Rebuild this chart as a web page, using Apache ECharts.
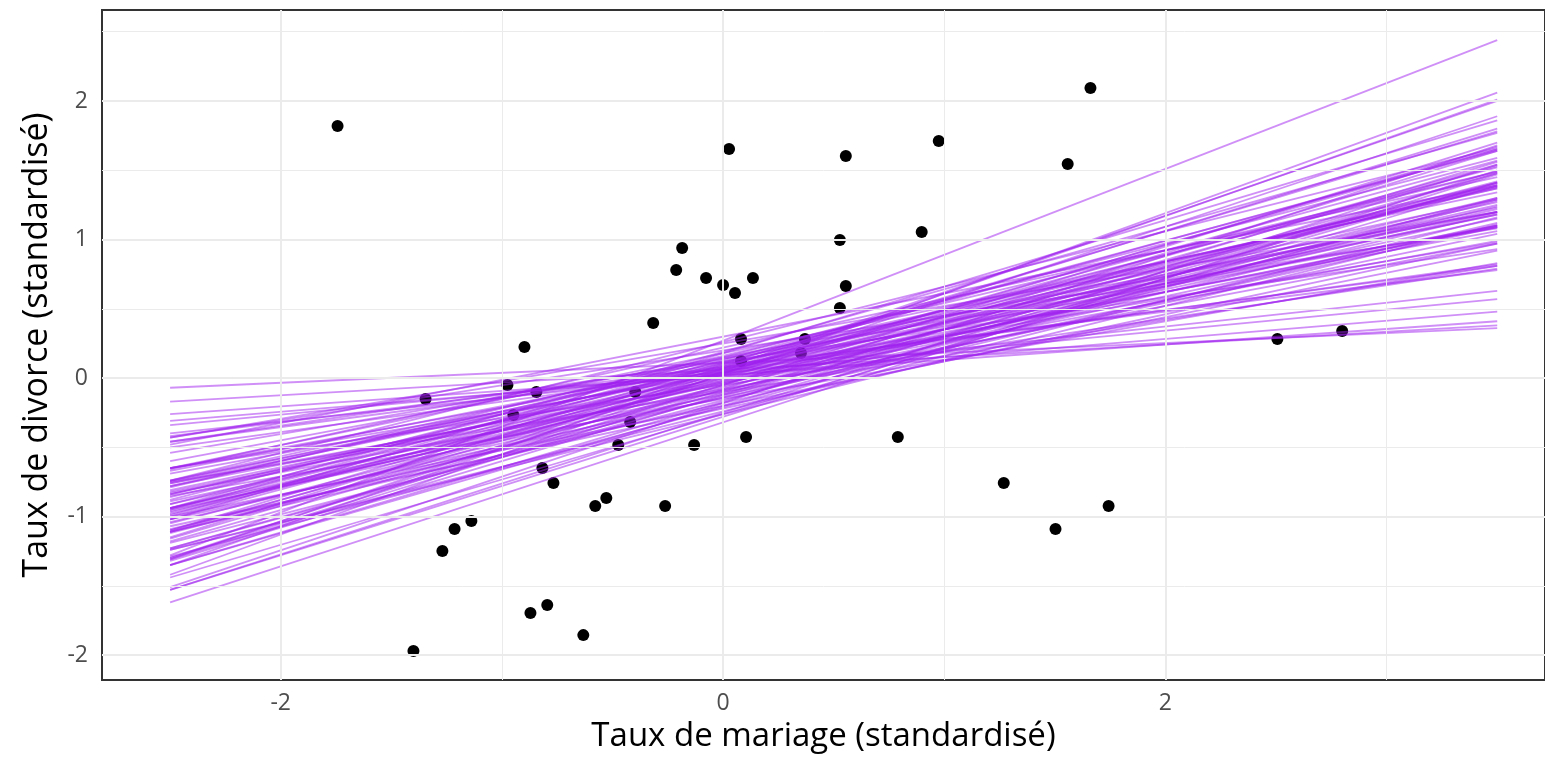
<!DOCTYPE html>
<html><head><meta charset="utf-8">
<script src="https://cdn.jsdelivr.net/npm/echarts@6/dist/echarts.min.js"></script>
<style>html,body{margin:0;padding:0;background:#fff}#c{width:1545px;height:765px}</style>
</head><body><div id="c"></div>
<script>
// Observed points (standardised marriage rate, standardised divorce rate)
const pointX = [-1.743,1.661,0.027,0.975,0.555,1.558,-0.185,-0.212,-0.077,0.000,0.054,0.135,0.528,0.898,0.555,0.528,-0.316,0.081,-0.898,0.370,0.352,0.081,2.506,2.799,-1.345,-0.975,-0.844,-0.948,-0.397,-0.420,-0.474,-0.131,0.104,0.790,-0.817,-0.767,1.269,-0.528,-0.578,-0.262,1.743,-1.138,-1.214,1.503,-1.269,-0.795,-0.871,-0.632,-1.400];
const pointY = [1.820,2.094,1.653,1.711,1.603,1.545,0.939,0.780,0.722,0.671,0.614,0.722,0.996,1.054,0.664,0.505,0.397,0.282,0.224,0.282,0.181,0.123,0.282,0.339,-0.152,-0.051,-0.101,-0.267,-0.101,-0.318,-0.484,-0.484,-0.426,-0.426,-0.650,-0.758,-0.758,-0.866,-0.924,-0.924,-0.924,-1.032,-1.090,-1.090,-1.249,-1.639,-1.697,-1.856,-1.971];
// Posterior regression lines: value at x = lineX0 (left end) and at x = lineX1 (right end)
const lineX0 = -2.5, lineX1 = 3.5;
const lineLeft = [-0.07,-0.17,-0.26,-0.31,-0.34,-0.40,-0.42,-0.46,-0.50,
  -0.46,-0.65,-0.43,-0.75,-0.65,-0.43,-0.85,-0.65,-0.76,-0.60,-0.83,-0.78,-0.48,-1.00,-0.74,-0.95,-0.65,-0.81,
  -0.89,-0.75,-1.07,-0.84,-1.02,-0.66,-0.96,-0.78,-0.91,-1.11,-0.86,-1.04,-0.79,-0.98,-0.97,-1.24,-0.91,-1.11,
  -0.74,-1.05,-1.19,-1.00,-1.12,-0.95,-1.29,-1.10,-1.23,-0.94,-1.18,-1.11,-1.35,-1.10,-1.31,
  -1.53,-1.53,-1.62,-1.30,-1.31,-1.35,-1.42,-1.28,
  -1.35,-1.16,-1.32,-1.15,-1.30,-1.44,-0.99,-1.02,-1.23,-0.88,-0.94,-1.09,-0.84,-0.94,-0.74,-0.94,
  -0.76,-0.82,-0.67,-0.69,-0.54,-1.51,-1.02,-1.24];
const lineRight = [0.36,0.38,0.41,0.48,0.57,0.63,0.78,0.81,0.82,
  0.93,0.79,1.08,0.81,0.98,1.20,0.83,1.10,0.99,1.20,0.97,1.09,1.39,0.92,1.18,1.04,1.34,1.18,
  1.15,1.29,0.97,1.27,1.09,1.45,1.20,1.38,1.25,1.12,1.37,1.24,1.49,1.30,1.38,1.11,1.49,1.29,
  1.66,1.42,1.28,1.52,1.40,1.64,1.30,1.54,1.41,1.77,1.53,1.65,1.48,1.78,1.64,
  1.47,1.54,1.50,1.89,2.00,2.01,2.06,2.44,
  1.41,1.67,1.56,1.80,1.70,1.39,1.65,1.57,1.48,1.59,1.41,1.19,1.39,1.22,1.37,1.10,
  1.23,1.10,1.20,1.06,1.09,1.68,1.86,1.16];
// Axis ticks and grid breaks
const xTicks = [-2, 0, 2];
const yTicks = [-2, -1, 0, 1, 2];
const xMinor = [-1, 1, 3];
const yMinor = [-1.5, -0.5, 0.5, 1.5, 2.5];
const xRange = [-2.808, 3.716];
const yRange = [-2.18, 2.657];

const series = [];
const gridData = [];
xTicks.forEach(v => gridData.push({xAxis: v, lineStyle: {color: '#EBEBEB', width: 2, type: 'solid'}}));
xMinor.forEach(v => gridData.push({xAxis: v, lineStyle: {color: '#EBEBEB', width: 1, type: 'solid'}}));
yTicks.forEach(v => gridData.push({yAxis: v, lineStyle: {color: '#EBEBEB', width: 2, type: 'solid'}}));
yMinor.forEach(v => gridData.push({yAxis: v, lineStyle: {color: '#EBEBEB', width: 1, type: 'solid'}}));
series.push({type: 'line', data: [], z: 1, silent: true,
  markLine: {silent: true, symbol: ['none','none'], label: {show: false}, animation: false, data: gridData}});
series.push({type: 'scatter', z: 2, symbolSize: 12, itemStyle: {color: '#000', opacity: 1},
  data: pointX.map((x, i) => [x, pointY[i]]), animation: false});
for (let i = 0; i < lineLeft.length; i++) {
  series.push({type: 'line', z: 3, silent: true, symbol: 'none', animation: false,
    lineStyle: {color: 'rgba(160,32,240,0.5)', width: 1.8},
    data: [[lineX0, lineLeft[i]], [lineX1, lineRight[i]]]});
}

const chart = echarts.init(document.getElementById('c'), null, {renderer: 'canvas'});
chart.setOption({
  animation: false,
  backgroundColor: '#fff',
  grid: {left: 102, top: 10, right: 0, bottom: 85, show: true, borderColor: '#333333', borderWidth: 2, backgroundColor: 'transparent'},
  xAxis: {type: 'value', min: xRange[0], max: xRange[1],
    name: 'Taux de mariage (standardisé)', nameLocation: 'middle', nameGap: 37,
    nameTextStyle: {color: '#000', fontSize: 33, fontFamily: 'Open Sans'},
    axisLine: {show: false}, splitLine: {show: false},
    axisTick: {show: true, customValues: xTicks, length: 6, lineStyle: {color: '#333', width: 2}},
    axisLabel: {customValues: xTicks, color: '#4D4D4D', fontSize: 23, fontFamily: 'Open Sans', margin: 12}},
  yAxis: {type: 'value', min: yRange[0], max: yRange[1],
    name: 'Taux de divorce (standardisé)', nameLocation: 'middle', nameGap: 48,
    nameTextStyle: {color: '#000', fontSize: 34, fontFamily: 'Open Sans'},
    axisLine: {show: false}, splitLine: {show: false},
    axisTick: {show: true, customValues: yTicks, length: 6, lineStyle: {color: '#333', width: 2}},
    axisLabel: {customValues: yTicks, color: '#4D4D4D', fontSize: 23, fontFamily: 'Open Sans', margin: 14}},
  series: series
});
</script></body></html>
